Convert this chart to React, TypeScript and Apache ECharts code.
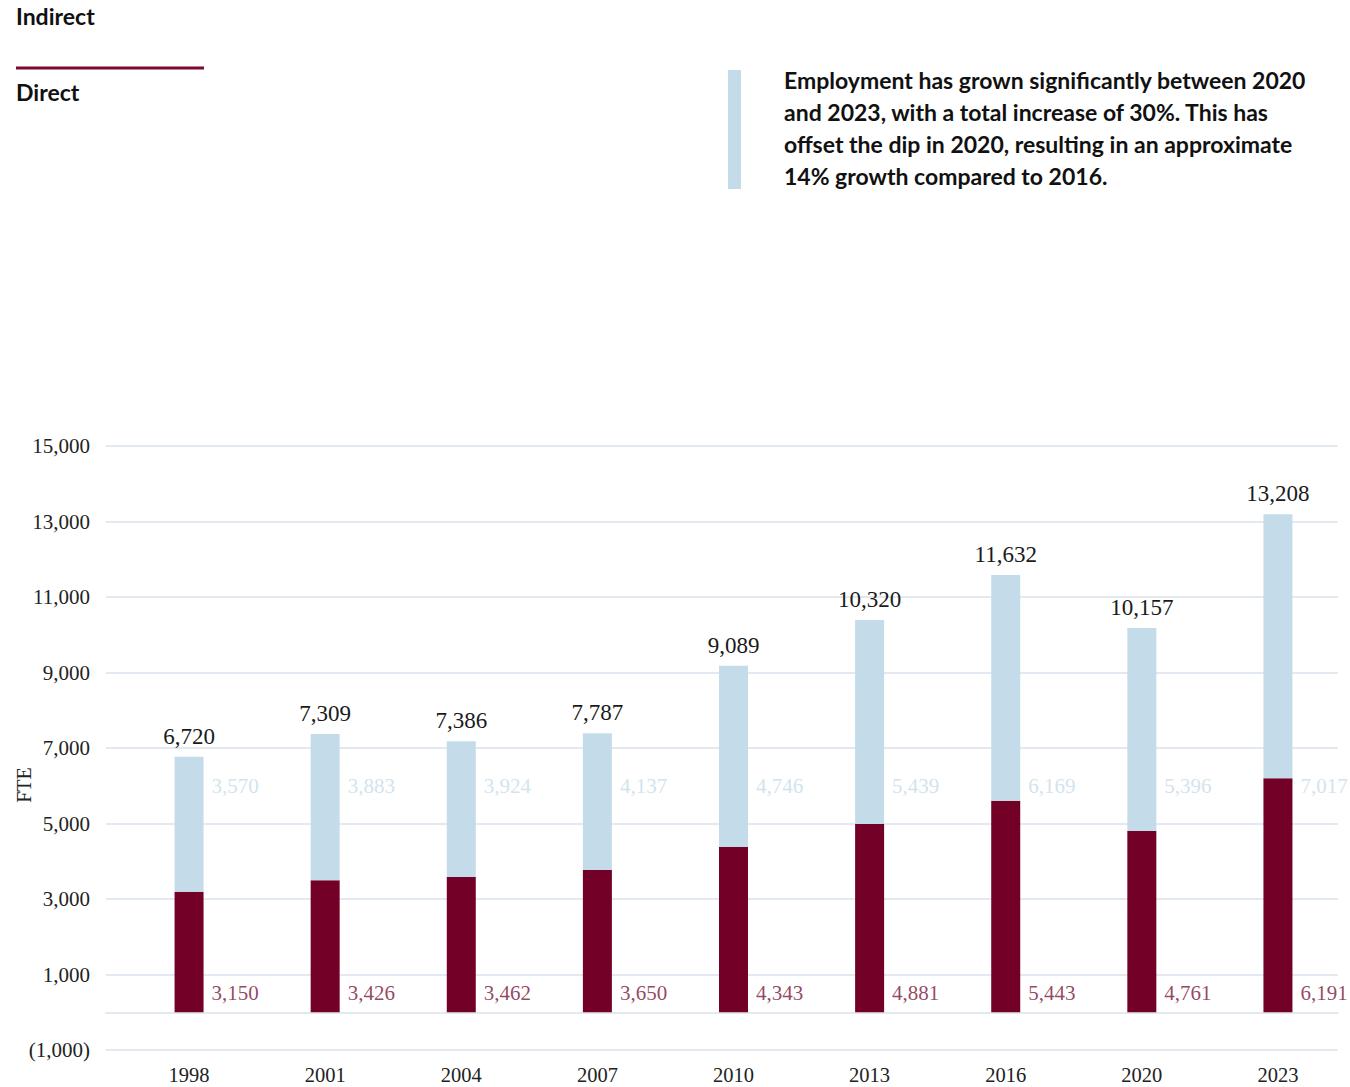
import React, { useEffect, useRef } from "react";
import * as echarts from "echarts";

const years = ["1998", "2001", "2004", "2007", "2010", "2013", "2016", "2020", "2023"];
// bar heights as drawn in the reference
const directBar = [3190, 3500, 3580, 3770, 4380, 4990, 5600, 4800, 6200];
const indirectBar = [3580, 3870, 3600, 3620, 4800, 5400, 5980, 5380, 6990];
// printed values
const totalValues = [6720, 7309, 7386, 7787, 9089, 10320, 11632, 10157, 13208];
const directValues = [3150, 3426, 3462, 3650, 4343, 4881, 5443, 4761, 6191];
const indirectValues = [3570, 3883, 3924, 4137, 4746, 5439, 6169, 5396, 7017];

const Y_MIN = -1000;
const Y_MAX = 15000;
const Y_STEP = 2000;
const INDIRECT_LABEL_LEVEL = 6000;
const DIRECT_LABEL_LEVEL = 500;

const MAROON = "#730026";
const LIGHTBLUE = "#c4dcea";
const GRID = "#d9e2eb";
const SERIF = "Liberation Serif, Times New Roman, serif";
const SANS = "Lato, Noto Sans, sans-serif";

const fmt = (v: number) => {
  const s = Math.abs(v).toLocaleString("en-US");
  return v < 0 ? `(${s})` : s;
};

export default function App() {
  const ref = useRef<HTMLDivElement>(null);
  useEffect(() => {
    if (!ref.current) return;
    const chart = echarts.init(ref.current, undefined, { renderer: "svg" });
    const top = 446;
    const bottom = 37;
    chart.setOption({
      animation: false,
      backgroundColor: "#ffffff",
      grid: [
        { left: 106, right: 12, top, bottom },
        { left: 121, right: 4, top, bottom },
      ],
      xAxis: [
        {
          gridIndex: 0,
          type: "value",
          min: 0,
          max: 1,
          axisLabel: { show: false },
          axisTick: { show: false },
          splitLine: { show: false },
          axisLine: { show: true, onZero: true, lineStyle: { color: GRID, width: 1.5 } },
        },
        {
          gridIndex: 1,
          type: "category",
          data: years,
          axisLine: { show: false, onZero: false },
          axisTick: { show: false },
          axisLabel: { color: "#222", fontFamily: SERIF, fontSize: 20.5, margin: 14 },
        },
      ],
      yAxis: [
        {
          gridIndex: 0,
          type: "value",
          min: Y_MIN,
          max: Y_MAX,
          interval: Y_STEP,
          axisLine: { show: false },
          axisTick: { show: false },
          axisLabel: {
            color: "#222",
            fontFamily: SERIF,
            fontSize: 21,
            margin: 16,
            formatter: (v: number) => fmt(v),
          },
          splitLine: { lineStyle: { color: GRID, width: 1.5 } },
        },
        {
          gridIndex: 1,
          type: "value",
          min: Y_MIN,
          max: Y_MAX,
          interval: Y_STEP,
          show: false,
          splitLine: { show: false },
        },
      ],
      series: [
        {
          type: "bar",
          name: "Direct",
          xAxisIndex: 1,
          yAxisIndex: 1,
          stack: "total",
          barWidth: 29,
          data: directBar,
          itemStyle: { color: MAROON },
        },
        {
          type: "bar",
          name: "Indirect",
          xAxisIndex: 1,
          yAxisIndex: 1,
          stack: "total",
          barWidth: 29,
          data: indirectBar,
          itemStyle: { color: LIGHTBLUE },
          label: {
            show: true,
            position: "top",
            distance: 9,
            color: "#1a1a1a",
            fontFamily: SERIF,
            fontSize: 23,
            formatter: (p: any) => fmt(totalValues[p.dataIndex]),
          },
        },
        {
          type: "scatter",
          name: "indirectLabels",
          xAxisIndex: 1,
          yAxisIndex: 1,
          symbolSize: 1,
          itemStyle: { color: "transparent" },
          data: years.map((y) => [y, INDIRECT_LABEL_LEVEL]),
          label: {
            show: true,
            position: "right",
            distance: 22,
            color: "#c6dcea",
            fontFamily: SERIF,
            fontSize: 21,
            formatter: (p: any) => fmt(indirectValues[p.dataIndex]),
          },
          silent: true,
        },
        {
          type: "scatter",
          name: "directLabels",
          xAxisIndex: 1,
          yAxisIndex: 1,
          symbolSize: 1,
          itemStyle: { color: "transparent" },
          data: years.map((y) => [y, DIRECT_LABEL_LEVEL]),
          label: {
            show: true,
            position: "right",
            distance: 22,
            color: "#7a1538",
            fontFamily: SERIF,
            fontSize: 21,
            formatter: (p: any) => fmt(directValues[p.dataIndex]),
          },
          silent: true,
        },
      ],
      graphic: [
        {
          type: "text",
          left: 16,
          top: 4,
          style: { text: "Indirect", font: `bold 23px ${SANS}`, fill: "#111" },
        },
        {
          type: "line",
          shape: { x1: 16, y1: 68, x2: 204, y2: 68 },
          style: { stroke: "#7a0a2e", lineWidth: 3 },
        },
        {
          type: "text",
          left: 16,
          top: 80,
          style: { text: "Direct", font: `bold 23px ${SANS}`, fill: "#111" },
        },
        {
          type: "rect",
          shape: { x: 728, y: 70, width: 13, height: 119 },
          style: { fill: LIGHTBLUE },
        },
        {
          type: "text",
          x: 784,
          y: 64,
          style: {
            text:
              "Employment has grown significantly between 2020\nand 2023, with a total increase of 30%. This has\noffset the dip in 2020, resulting in an approximate\n14% growth compared to 2016.",
            font: `bold 23px ${SANS}`,
            lineHeight: 32,
            fill: "#111",
            verticalAlign: "top",
            align: "left",
          },
        },
        {
          type: "text",
          x: 24,
          y: 785,
          rotation: Math.PI / 2,
          style: {
            text: "FTE",
            font: `20px ${SERIF}`,
            fill: "#222",
            align: "center",
            verticalAlign: "middle",
          },
        },
      ],
    });
    return () => chart.dispose();
  }, []);
  return (
    <div
      ref={ref}
      style={{ position: "fixed", left: 0, top: 0, width: 1350, height: 1087, background: "#fff" }}
    />
  );
}
